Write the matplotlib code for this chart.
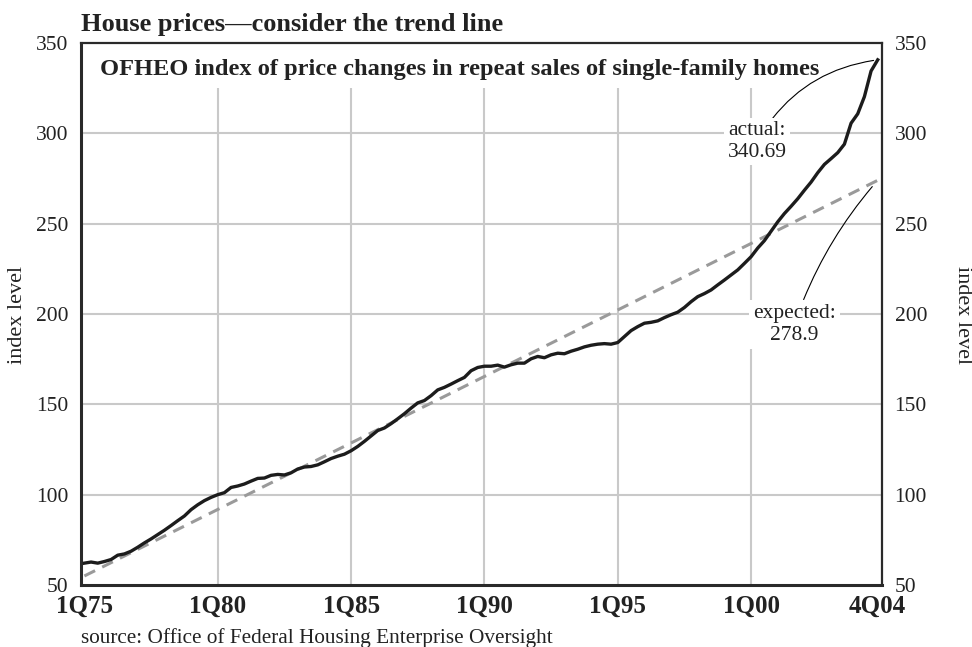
import matplotlib
matplotlib.use("Agg")
import matplotlib.pyplot as plt
import numpy as np

# -----------------------------------------------------------------------------
# Data: OFHEO house price index, quarterly 1Q75 .. 4Q04
# -----------------------------------------------------------------------------
actual = [
    62.1, 62.7, 62.1, 63.0, 64.1, 66.5, 67.2, 68.7, 70.9, 73.3,
    75.5, 77.9, 80.3, 82.9, 85.6, 88.2, 91.7, 94.4, 96.7, 98.5,
    100.0, 101.1, 104.0, 104.8, 105.9, 107.5, 109.0, 109.2, 110.7, 111.2,
    110.9, 112.1, 114.2, 115.3, 115.6, 116.5, 118.2, 120.0, 121.3, 122.4,
    124.3, 126.7, 129.5, 132.5, 135.5, 136.9, 139.3, 142.0, 144.8, 147.9,
    150.8, 152.1, 154.8, 158.0, 159.4, 161.2, 163.1, 164.9, 168.6, 170.4,
    171.1, 171.1, 171.7, 170.6, 171.9, 172.8, 172.8, 175.2, 176.5, 175.8,
    177.4, 178.3, 178.0, 179.4, 180.5, 181.8, 182.7, 183.3, 183.6, 183.3,
    184.2, 187.5, 190.8, 193.0, 194.9, 195.4, 196.2, 198.0, 199.6, 201.0,
    203.6, 206.8, 209.6, 211.3, 213.3, 216.1, 218.8, 221.6, 224.4, 228.0,
    231.7, 236.5, 240.6, 245.8, 251.0, 255.6, 259.6, 263.8, 268.5, 273.0,
    278.2, 282.8, 286.0, 289.3, 294.0, 305.6, 310.8, 320.3, 334.5, 340.69,
]
quarter = np.arange(len(actual))

# straight trend line, end points
trend_ends = [55.0, 274.0]
trend_x = [quarter[0], quarter[-1]]

tick_pos = [0, 20, 40, 60, 80, 100, 119]
tick_labels = ["1Q75", "1Q80", "1Q85", "1Q90", "1Q95", "1Q00", "4Q04"]
grid_x = [20, 40, 60, 80, 100]
y_ticks = [50, 100, 150, 200, 250, 300, 350]

actual_label = "actual:\n340.69"
expected_label = "expected:\n278.9"

# -----------------------------------------------------------------------------
# Style
# -----------------------------------------------------------------------------
SERIF = ["Liberation Serif", "DejaVu Serif"]
TEXT = "#222222"
GRID = "#c9c9c9"
LINE = "#1c1c1c"
TREND = "#9a9a9a"

plt.rcParams.update({"font.family": SERIF, "axes.unicode_minus": False})

W, H = 972, 647
fig = plt.figure(figsize=(W / 100, H / 100), dpi=100, facecolor="white")

left, right, top, bottom = 81, 882, 43, 585
ax = fig.add_axes([left / W, 1 - bottom / H, (right - left) / W, (bottom - top) / H])

ax.set_xlim(-0.51, 119.64)
ax.set_ylim(50, 350)

# grid: horizontal full width, vertical stops under the subtitle
for yv in y_ticks[1:-1]:
    ax.axhline(yv, color=GRID, lw=1.5, zorder=1)
ax.vlines(grid_x, 50, 325, color=GRID, lw=1.5, zorder=1)

ax.plot(trend_x, trend_ends, color=TREND, lw=2.2, ls=(0, (3.9, 2.6)), zorder=3)
ax.plot(quarter, actual, color=LINE, lw=2.4, solid_joinstyle="round", zorder=4)

# ticks
ax.set_xticks(tick_pos)
ax.set_xticklabels(tick_labels, fontsize=18, fontweight="bold", color=TEXT)
ax.set_yticks(y_ticks)
ax.tick_params(axis="x", length=0, pad=7)
ax.tick_params(axis="y", length=0, pad=9, labelsize=15.5, labelcolor=TEXT,
               labelright=True, right=False)

for name in ("left", "bottom"):
    ax.spines[name].set_linewidth(2.2)
    ax.spines[name].set_color("#2a2a2a")
for name in ("top", "right"):
    ax.spines[name].set_linewidth(1.6)
    ax.spines[name].set_color("#2a2a2a")

# subtitle inside the plot
ax.text(0.0237, 0.941, "OFHEO index of price changes in repeat sales of single-family homes",
        transform=ax.transAxes, fontsize=17.6, fontweight="bold", color=TEXT,
        va="baseline", ha="left", zorder=5)

# annotations
ax.annotate(actual_label, xy=(quarter[-1], actual[-1]), xytext=(100.9, 295.3),
            ha="center", va="center", fontsize=15.5, color=TEXT, zorder=6,
            linespacing=1.2,
            bbox=dict(boxstyle="square,pad=0.15", fc="white", ec="none"),
            arrowprops=dict(arrowstyle="-", color="black", lw=0.8,
                            connectionstyle="arc3,rad=-0.25", shrinkA=0, shrinkB=3))
ax.annotate(expected_label, xy=(quarter[-1], trend_ends[-1]), xytext=(106.5, 194.3),
            ha="center", va="center", fontsize=15.5, color=TEXT, zorder=6,
            linespacing=1.2,
            bbox=dict(boxstyle="square,pad=0.2", fc="white", ec="none"),
            arrowprops=dict(arrowstyle="-", color="black", lw=0.8,
                            connectionstyle="arc3,rad=-0.1", shrinkA=0, shrinkB=6))

# title, axis labels, source
fig.text(81 / W, 1 - 31 / H, "House prices\u2014consider the trend line",
         fontsize=19, fontweight="bold", color=TEXT, ha="left", va="baseline")
fig.text(17 / W, 1 - 315 / H, "index level", rotation=90, fontsize=16,
         color=TEXT, ha="center", va="center")
fig.text(962 / W, 1 - 315 / H, "index level", rotation=270, fontsize=16,
         color=TEXT, ha="center", va="center")
fig.text(81 / W, 1 - 643 / H, "source: Office of Federal Housing Enterprise Oversight",
         fontsize=15.3, color=TEXT, ha="left", va="baseline")

fig.savefig("out.png", dpi=100, facecolor="white")
